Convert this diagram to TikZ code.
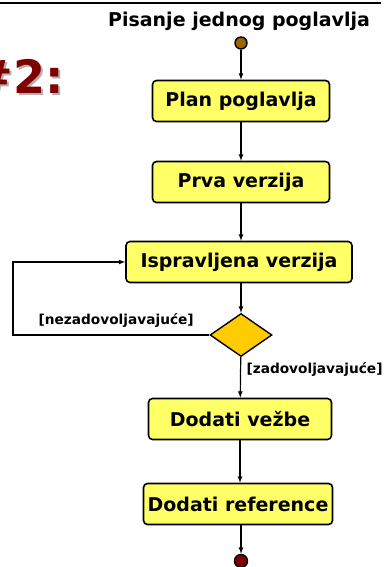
\documentclass[tikz,border=0pt]{standalone}
\usepackage{fontspec}
\setmainfont{DejaVu Sans}
\usetikzlibrary{shapes.geometric}
\definecolor{boxyellow}{RGB}{255,255,102}
\definecolor{decgold}{RGB}{255,204,0}
\definecolor{startbrown}{RGB}{153,102,0}
\definecolor{enddarkred}{RGB}{128,0,0}

\begin{document}
\begin{tikzpicture}[
		x=1pt, y=1pt,
		activity/.style = {draw, line width=1.6pt, rounded corners=4pt, fill=boxyellow,
				minimum height=41pt, inner xsep=3pt, font=\bfseries\fontsize{19}{22}\selectfont},
		decision/.style = {diamond, draw, line width=1.4pt, fill=decgold, inner sep=0pt,
				minimum width=62pt, minimum height=43pt, aspect=1.44},
		guard/.style = {font=\bfseries\fontsize{13.7}{16}\selectfont},
		flow/.style = {-latex, line width=1.2pt},
	]
	\path[use as bounding box] (0,0) rectangle (385,567);
	\draw[line width=2pt] (0,564) -- (381,564);
	% title and slide number
	\node[font=\bfseries\fontsize{19}{22}\selectfont] (title) at (239,546) {Pisanje jednog poglavlja};
	\node[font=\bfseries\fontsize{46}{50}\selectfont, text=gray!60] at (21,489) {\#2:};
	\node[font=\bfseries\fontsize{46}{50}\selectfont, text=enddarkred] (num) at (19,491) {\#2:};
	% start and end
	\node[circle, draw, line width=1.4pt, fill=startbrown, minimum size=12pt, inner sep=0pt] (start) at (241,524) {};
	\node[circle, draw, line width=1.4pt, fill=enddarkred, minimum size=13pt, inner sep=0pt] (stop) at (241,6) {};
	% activities
	\node[activity, minimum width=177pt] (plan) at (241,466) {Plan poglavlja};
	\node[activity, minimum width=177pt] (prva) at (241,385) {Prva verzija};
	\node[activity, minimum width=226pt] (ispr) at (239,305) {Ispravljena verzija};
	\node[decision] (dec) at (241,232) {};
	\node[activity, minimum width=183pt] (vezbe) at (240,148) {Dodati vežbe};
	\node[activity, minimum width=189pt] (refs) at (238,63) {Dodati reference};
	% connectors
	\draw[flow] (start) -- (plan);
	\draw[flow] (plan) -- (prva);
	\draw[flow] (prva) -- (ispr.north -| prva);
	\draw[flow] (ispr.south -| dec) -- (dec);
	\draw[flow] (dec.west) -- node[guard, above=4pt, xshift=5pt] {[nezadovoljavajuće]} (13,232) |- (ispr.west);
	\draw[flow] (dec) -- (vezbe) node[guard, pos=0.3, right=2pt] {[zadovoljavajuće]};
	\draw[flow] (vezbe) -- (refs.north -| vezbe);
	\draw[flow] (refs.south -| stop) -- (stop);
\end{tikzpicture}
\end{document}
